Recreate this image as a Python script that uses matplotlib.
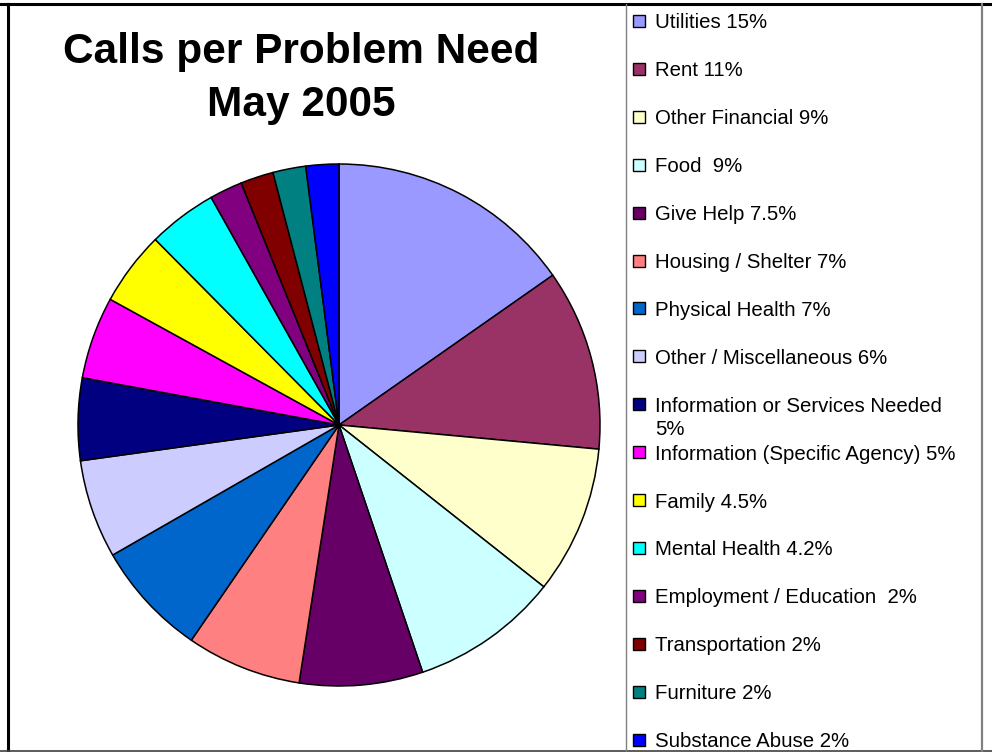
import matplotlib.pyplot as plt
from matplotlib.patches import Rectangle
from matplotlib.lines import Line2D

# Calls per problem need, May 2005
labels = ['Utilities 15%', 'Rent 11%', 'Other Financial 9%', 'Food  9%',
          'Give Help 7.5%', 'Housing / Shelter 7%', 'Physical Health 7%',
          'Other / Miscellaneous 6%', 'Information or Services Needed\n5%',
          'Information (Specific Agency) 5%', 'Family 4.5%', 'Mental Health 4.2%',
          'Employment / Education  2%', 'Transportation 2%', 'Furniture 2%',
          'Substance Abuse 2%']
values = [15, 11, 9, 9, 7.5, 7, 7, 6, 5, 5, 4.5, 4.2, 2, 2, 2, 2]
colors = ['#9999FF', '#993366', '#FFFFCC', '#CCFFFF', '#660066', '#FF8080',
          '#0066CC', '#CCCCFF', '#000080', '#FF00FF', '#FFFF00', '#00FFFF',
          '#800080', '#800000', '#008080', '#0000FF']

W, H = 992, 752
plt.rcParams['font.family'] = ['Liberation Sans', 'DejaVu Sans']
fig = plt.figure(figsize=(W / 100, H / 100), dpi=100)


def fx(px):
    return px / W


def fy(py):
    return 1 - py / H


# pie ------------------------------------------------------------
cx, cy, r = 339, 425, 261
ax = fig.add_axes([fx(cx - r), fy(cy + r), 2 * r / W, 2 * r / H])
ax.pie(values, colors=colors, startangle=90, counterclock=False,
       wedgeprops=dict(edgecolor='black', linewidth=1.1))
ax.set_xlim(-1, 1)
ax.set_ylim(-1, 1)
ax.set_aspect('auto')
ax.axis('off')

# title
fig.text(fx(301), fy(52), 'Calls per Problem Need', ha='center', va='center',
         fontsize=30.5, fontweight='bold')
fig.text(fx(301), fy(105), 'May 2005', ha='center', va='center',
         fontsize=30.5, fontweight='bold')

# legend (drawn by hand so the wrapped entry overflows like the original)
y0, step = 21, 47.9
for i, (lab, col) in enumerate(zip(labels, colors)):
    y = y0 + i * step
    fig.patches.append(Rectangle((fx(633), fy(y + 6)), 12 / W, 12 / H,
                                 facecolor=col, edgecolor='black', linewidth=1.0,
                                 transform=fig.transFigure))
    fig.text(fx(655), fy(y - 7.5), lab, ha='left', va='top',
             fontsize=14.7, linespacing=1.3)

# borders
def line(x0, y0_, x1, y1, color, lw):
    fig.add_artist(Line2D([fx(x0), fx(x1)], [fy(y0_), fy(y1)], color=color,
                          linewidth=lw, transform=fig.transFigure))


line(0, 4, W, 4, 'black', 2.2)
line(8, 4, 8, H, 'black', 2.2)
line(0, 751, W, 751, '#404040', 1.2)
line(626, 4, 626, H, '#808080', 1.0)
line(982, 4, 982, H, '#808080', 1.6)

fig.savefig('out.png', dpi=100)
